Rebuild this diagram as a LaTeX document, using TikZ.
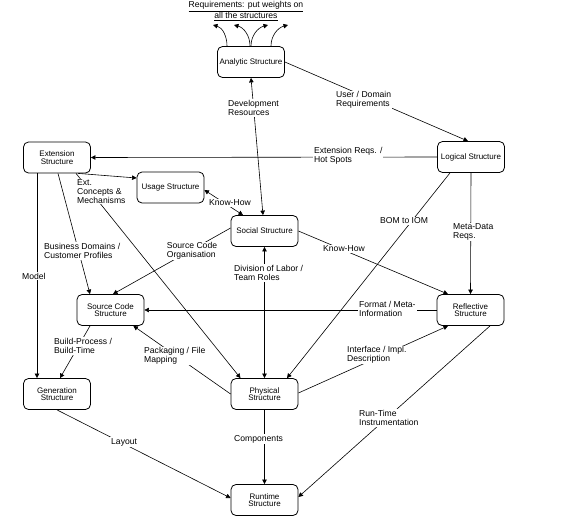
\documentclass[tikz,border=0pt]{standalone}
\usepackage{fontspec}
\setmainfont{Liberation Sans}
\usetikzlibrary{arrows.meta,calc}
\begin{document}
\begin{tikzpicture}[x=1pt,y=-1pt,
  box/.style={draw,rounded corners=5pt,line width=0.8pt,minimum width=67pt,minimum height=31pt,align=center,inner sep=1pt,font=\fontsize{8}{7.5}\selectfont},
  lbl/.style={fill=white,inner sep=1pt,align=left,anchor=west,font=\fontsize{8.6}{8.8}\selectfont},
  con/.style={line width=0.6pt,-{Triangle[length=4.5pt,width=4.5pt]}},
  dcon/.style={line width=0.6pt,{Triangle[length=4.5pt,width=4.5pt]}-{Triangle[length=4.5pt,width=4.5pt]}}]
\useasboundingbox (0,0) rectangle (571,517);
% boxes
\node[box] (an) at (251,62) {Analytic Structure};
\node[box] (lo) at (471,157) {Logical Structure};
\node[box] (ex) at (57,157.5) {Extension\\Structure};
\node[box] (us) at (170.5,187.5) {Usage Structure};
\node[box] (so) at (264.5,231) {Social Structure};
\node[box] (sc) at (110.5,310) {Source Code\\Structure};
\node[box] (ge) at (57,394) {Generation\\Structure};
\node[box] (ph) at (264.5,394) {Physical\\Structure};
\node[box] (re) at (470.5,310) {Reflective\\Structure};
\node[box] (ru) at (264.5,500) {Runtime\\Structure};
% title
\node[font=\fontsize{8.6}{9}\selectfont,align=center,inner sep=0pt] (title) at (246,11)
  {\underline{Requirements: put weights on}\\\underline{all the structures}};
% requirement arrows
\coordinate (t1) at (213,25);
\coordinate (t2) at (234,25);
\coordinate (t3) at (268,25);
\coordinate (t4) at (288,25);
\draw[con] ($(an.north)+(-24,0)$) to[out=90,in=-15] (t1);
\draw[con] ($(an.north)+(-1,0)$) to[out=90,in=-15] (t2);
\draw[con] (an.north) to[out=90,in=195] (t3);
\draw[con] ($(an.north)+(20,0)$) to[out=90,in=195] (t4);
% connectors
\draw[dcon] ($(so.north)+(-1.5,0)$) -- (an.south);
\draw[con] (an.east) -- ($(lo.north)+(-3,0)$);
\draw[con] (lo.west) -- (ex.east);
\draw[con] ($(ex.south)+(21,0)$) -- ($(us.west)+(0,-9.5)$);
\draw[con] ($(ex.south)+(19,0)$) -- ($(ph.north)+(-24,0)$);
\draw[dcon] ($(us.east)+(0,2.5)$) -- ($(so.north)+(-21.5,0)$);
\draw[con] ($(ex.south)+(1,0)$) -- ($(sc.north)+(-20.5,0)$);
\draw[con] ($(ex.south)+(-20,0)$) -- ($(ge.north)+(-20,0)$);
\draw[con] ($(so.west)+(0,-3)$) -- ($(sc.north)+(2.5,0)$);
\draw[dcon] (so.south) -- (ph.north);
\draw[con] (so.east) -- ($(re.north)+(-22.5,0)$);
\draw[con] ($(lo.south)+(-21,0)$) -- ($(ph.north)+(22.5,0)$);
\draw[con] (lo.south) -- (re.north);
\draw[con] (re.west) -- (sc.east);
\draw[con] (ph.west) -- ($(sc.south east)+(-11,0)$);
\draw[con] ($(sc.south)+(-20.5,0)$) -- ($(ge.north)+(3,0)$);
\draw[con] (ge.south) -- ($(ru.west)+(0,-2)$);
\draw[con] (ph.south) -- (ru.north);
\draw[con] ($(re.south)+(19.5,0)$) -- ($(ru.east)+(0,-3)$);
\draw[con] ($(ph.east)+(0,-1)$) -- ($(re.south)+(-22.5,0)$);
% labels
\node[lbl] (l1) at (227,108) {Development\\Resources};
\node[lbl] (l2) at (335,100) {User / Domain\\Requirements};
\node[lbl] (l3) at (313,156) {Extension Reqs. /\\Hot Spots};
\node[lbl] (l4) at (76,191.5) {Ext.\\Concepts \&\\Mechanisms};
\node[lbl] (l5) at (208,203) {Know-How};
\node[lbl] (l6) at (43,251) {Business Domains /\\Customer Profiles};
\node[lbl] (l7) at (21,276) {Model};
\node[lbl] (l8) at (165.7,251) {Source Code\\Organisation};
\node[lbl] (l9) at (233,273) {Division of Labor /\\Team Roles};
\node[lbl] (l10) at (322,249) {Know-How};
\node[lbl] (l11) at (379,221) {BOM to IOM};
\node[lbl] (l12) at (452,232) {Meta-Data\\Reqs.};
\node[lbl] (l13) at (358,309) {Format / Meta-\\Information};
\node[lbl] (l14) at (143,356) {Packaging / File\\Mapping};
\node[lbl] (l15) at (53,346) {Build-Process /\\Build-Time};
\node[lbl] (l16) at (110,442) {Layout};
\node[lbl] (l17) at (233,439) {Components};
\node[lbl] (l18) at (358,418) {Run-Time\\Instrumentation};
\node[lbl] (l19) at (346,355) {Interface / Impl.\\Description};
\end{tikzpicture}
\end{document}
